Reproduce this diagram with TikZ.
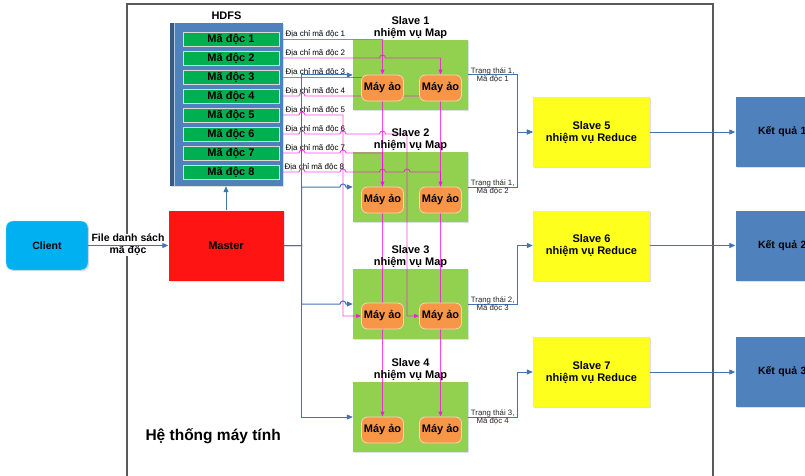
\documentclass[tikz,border=0pt]{standalone}
\usepackage{fontspec}
\setmainfont{Liberation Sans}
\usepackage{xcolor}
\usepackage{tikz}
\usetikzlibrary{arrows.meta, positioning, calc, shadows}
\definecolor{FrameGray}{RGB}{90, 90, 90}
\definecolor{ClientCyan}{RGB}{0, 176, 240}
\definecolor{MasterRed}{RGB}{255, 20, 20}
\definecolor{SteelBlue}{RGB}{79, 129, 189}
\definecolor{CodeGreen}{RGB}{0, 176, 80}
\definecolor{MapGreen}{RGB}{146, 208, 80}
\definecolor{VmOrange}{RGB}{247, 150, 70}
\definecolor{ReduceYellow}{RGB}{255, 255, 30}
\definecolor{LinkBlue}{RGB}{68, 114, 176}
\definecolor{AddrPink}{RGB}{255, 0, 235}
\pgfdeclarelayer{boxes}
\pgfdeclarelayer{wires}
\pgfsetlayers{boxes,wires,main}

\begin{document}
\begin{tikzpicture}[x=1pt, y=-1pt,
  shade/.style={drop shadow={opacity=0.25, shadow xshift=1.2pt, shadow yshift=-1.2pt}},
  box/.style={
    rectangle, inner sep=0pt, shade,
    minimum width=115pt, minimum height=70pt,
    align=center, font=\bfseries\fontsize{11}{12}\selectfont
  },
  mapbox/.style={box, fill=MapGreen},
  redbox/.style={box, fill=ReduceYellow, minimum width=117pt},
  result/.style={box, fill=SteelBlue, text width=70pt, inner xsep=2pt, align=left,
    font=\bfseries\fontsize{10.5}{12}\selectfont},
  vm/.style={
    rectangle, rounded corners=6pt, inner sep=0pt,
    fill=VmOrange, draw=white!60!VmOrange, line width=0.8pt,
    minimum width=42pt, minimum height=26pt,
    font=\bfseries\fontsize{11}{12}\selectfont
  },
  code/.style={
    rectangle, inner sep=0pt, fill=CodeGreen, draw=white!85!black, line width=0.8pt,
    minimum width=96pt, minimum height=14pt,
    font=\bfseries\fontsize{11}{12}\selectfont
  },
  title/.style={font=\bfseries\fontsize{11}{12}\selectfont, align=center, inner sep=1pt},
  addr/.style={font=\fontsize{8}{9}\selectfont, inner sep=1pt, anchor=south west},
  state/.style={font=\fontsize{7.8}{8.5}\selectfont, align=center, inner sep=0pt, text=black!85},
  flow/.style={-{Triangle[length=6pt, width=5pt]}, LinkBlue, line width=1pt},
  wire/.style={AddrPink, line width=0.9pt, opacity=0.72,
    -{Triangle[length=5pt, width=4pt]}},
  hop/.style args={#1/#2}{insert path={-- (#1-3,#2) arc[start angle=180, end angle=0, radius=3pt]}}
]
  \useasboundingbox (0,0) rectangle (805,476);

  \begin{pgfonlayer}{boxes}
    \fill[white] (0,0) rectangle (805,476);
    \draw[FrameGray, line width=1.5pt] (127,490) |- (713,4) -- (713,490);
    \node[mapbox] (s1) at (410.5,75)  {};
    \node[mapbox] (s2) at (410.5,187) {};
    \node[mapbox] (s3) at (410.5,304) {};
    \node[mapbox] (s4) at (410.5,417) {};
  \end{pgfonlayer}

  % client and master
  \node[rectangle, rounded corners=7pt, fill=ClientCyan, draw=white!60!ClientCyan,
    minimum width=82pt, minimum height=49pt, shade,
    font=\bfseries\fontsize{10.5}{12}\selectfont] (client) at (47,245.5) {Client};
  \node[box, fill=MasterRed] (master) at (226,245.5) {Master};
  \node[fill=white, inner sep=0pt, align=center,
    font=\bfseries\fontsize{10.5}{12}\selectfont] (list) at (128,245) {File danh sách\\mã độc};

  % HDFS
  \node[rectangle, fill=SteelBlue, minimum width=113pt, minimum height=163pt,
    inner sep=0pt, shade] (hdfs) at (226.5,104.5) {};
  \fill[SteelBlue!70!black] (hdfs.north west) rectangle ($(hdfs.south west)+(4,0)$);
  \draw[white!55!SteelBlue, line width=0.8pt]
    ($(hdfs.north west)+(5,0)$) -- ($(hdfs.south west)+(5,0)$);
  \node[title, above=2pt of hdfs] (hdfsname) {HDFS};

  \node[code] (c1) at (231,39)  {Mã độc 1};
  \node[code] (c2) at (231,58)  {Mã độc 2};
  \node[code] (c3) at (231,77)  {Mã độc 3};
  \node[code] (c4) at (231,96)  {Mã độc 4};
  \node[code] (c5) at (231,115) {Mã độc 5};
  \node[code] (c6) at (231,134) {Mã độc 6};
  \node[code] (c7) at (231,153) {Mã độc 7};
  \node[code] (c8) at (231,172) {Mã độc 8};

  \node[addr] at ([xshift=5pt]c1.east) {Địa chỉ mã độc 1};
  \node[addr] at ([xshift=5pt]c2.east) {Địa chỉ mã độc 2};
  \node[addr] at ([xshift=5pt]c3.east) {Địa chỉ mã độc 3};
  \node[addr] at ([xshift=5pt]c4.east) {Địa chỉ mã độc 4};
  \node[addr] at ([xshift=5pt]c5.east) {Địa chỉ mã độc 5};
  \node[addr] at ([xshift=5pt]c6.east) {Địa chỉ mã độc 6};
  \node[addr] at ([xshift=5pt]c7.east) {Địa chỉ mã độc 7};
  \node[addr] at ([xshift=4pt]c8.east) {Địa chỉ mã độc 8};

  % map slaves
  \node[title, above=0pt of s1] (t1) {Slave 1\\nhiệm vụ Map};
  \node[title, above=0pt of s2] (t2) {Slave 2\\nhiệm vụ Map};
  \node[title, above=0pt of s3] (t3) {Slave 3\\nhiệm vụ Map};
  \node[title, above=0pt of s4] (t4) {Slave 4\\nhiệm vụ Map};

  \node[vm] (v11) at ($(s1.center)+(-28,13)$) {Máy ảo};
  \node[vm] (v12) at ($(s1.center)+(30,13)$)  {Máy ảo};
  \node[vm] (v21) at ($(s2.center)+(-28,13)$) {Máy ảo};
  \node[vm] (v22) at ($(s2.center)+(30,13)$)  {Máy ảo};
  \node[vm] (v31) at ($(s3.center)+(-28,12)$) {Máy ảo};
  \node[vm] (v32) at ($(s3.center)+(30,12)$)  {Máy ảo};
  \node[vm] (v41) at ($(s4.center)+(-28,13)$) {Máy ảo};
  \node[vm] (v42) at ($(s4.center)+(30,13)$)  {Máy ảo};

  % reduce slaves and results
  \node[redbox] (r5) at (591.5,132)   {Slave 5\\nhiệm vụ Reduce};
  \node[redbox] (r6) at (591.5,245.5) {Slave 6\\nhiệm vụ Reduce};
  \node[redbox] (r7) at (591.5,372)   {Slave 7\\nhiệm vụ Reduce};
  \node[result] (k1) at (793,132)   {Kết quả 1};
  \node[result] (k2) at (793,245.5) {Kết quả 2};
  \node[result] (k3) at (793,372)   {Kết quả 3};

  \node[font=\bfseries\fontsize{15.5}{18}\selectfont, anchor=west] (sys) at (142,436) {Hệ thống máy tính};

  % addresses
  \begin{pgfonlayer}{wires}
    \draw[wire] (c1.east) -| (v11.north);
    \draw[wire] (c2.east) [hop=382.5/58] -| (v12.north);
    \draw[wire] (c3.east) -| (v21.north);
    \draw[wire] (c4.east) [hop=302/96] -| (v22.north);
    \draw[wire] (c5.east) [hop=302/115] -- (343,115) |- (v31.west);
    \draw[wire] (c6.east) [hop=302/134] [hop=343/134] [hop=382.5/134] -- (407,134) |- (v32.west);
    \draw[wire] (c7.east) [hop=302/153] [hop=343/153] -| (v41.north);
    \draw[wire] (c8.east) [hop=302/172] [hop=343/172] [hop=382.5/172] [hop=407/172] -| (v42.north);
  \end{pgfonlayer}

  \draw[flow] (client) -- (master);
  \draw[flow] (master.north) -- (master.north |- hdfs.south);

  \draw[flow] (master.east) -- ++(18,0) |- (s1.west);
  \draw[flow] (master.east) -- ++(18,0) |- (339.5,187) [hop=343/187] -- (s2.west);
  \draw[flow] (master.east) -- ++(18,0) |- (339.5,304) [hop=343/304] -- (s3.west);
  \draw[flow] (master.east) -- ++(18,0) |- (s4.west);

  \draw[flow] (s1.east) -- node[state]{Trạng thái 1,\\Mã độc 1} ++(49,0) |- (r5.west);
  \draw[flow] (s2.east) -- node[state]{Trạng thái 1,\\Mã độc 2} ++(49,0) |- (r5.west);
  \draw[flow] (s3.east) -- node[state]{Trạng thái 2,\\Mã độc 3} ++(49,0) |- (r6.west);
  \draw[flow] (s4.east) -- node[state]{Trạng thái 3,\\Mã độc 4} ++(49,0) |- (r7.west);

  \draw[flow] (r5) -- (k1);
  \draw[flow] (r6) -- (k2);
  \draw[flow] (r7) -- (k3);
\end{tikzpicture}
\end{document}
